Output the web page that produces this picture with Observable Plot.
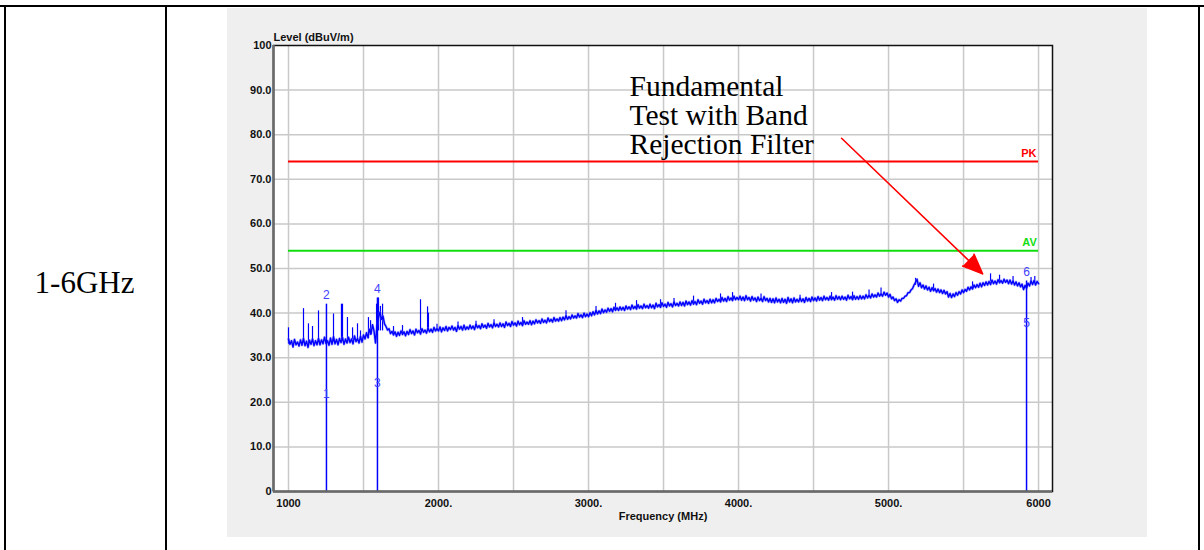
<!DOCTYPE html>
<html><head><meta charset="utf-8">
<script src="https://cdn.jsdelivr.net/npm/d3@7"></script>
<script src="https://cdn.jsdelivr.net/npm/@observablehq/plot@0.6"></script>
<style>
body{margin:0;width:1204px;height:550px;background:#fff;position:relative;overflow:hidden;font-family:"Liberation Serif",serif}
.ln{position:absolute;background:#000}
#panel{position:absolute;left:227px;top:8px;width:920px;height:529px;background:#efefef}
#band{position:absolute;left:4px;top:267px;width:161px;text-align:center;font-size:31px;line-height:32px;color:#000}
</style></head><body>
<div class="ln" style="left:0;top:5px;width:1204px;height:2px"></div>
<div class="ln" style="left:4px;top:5px;width:2px;height:545px"></div>
<div class="ln" style="left:165px;top:5px;width:2px;height:545px"></div>
<div class="ln" style="left:1198px;top:5px;width:2px;height:545px"></div>
<div id="band">1-6GHz</div>
<div id="panel"></div>
<script>
// ---- data ----
const freqStart = 1000, freqStep = 10; // MHz
const level = [
34.2,33.0,33.8,32.4,34.1,32.9,33.5,32.6,34.0,32.8,34.3,32.7,33.7,32.3,33.9,33.0,34.2,32.7,33.8,32.9,
34.3,32.9,34.0,33.1,34.6,33.2,33.8,32.8,34.4,33.0,34.7,33.1,34.1,32.9,34.3,33.4,34.5,33.0,34.2,33.3,
34.6,33.4,34.2,33.1,34.9,33.6,34.3,33.3,34.8,33.5,35.1,34.2,35.6,34.5,36.4,35.3,37.4,36.0,33.3,37.2,
39.0,40.2,38.6,39.3,37.6,37.0,36.2,36.5,35.4,35.9,35.1,35.8,34.8,35.7,35.0,36.0,35.2,35.8,34.9,35.9,
35.2,36.3,35.4,36.0,35.1,36.4,35.6,36.1,35.3,36.5,35.7,36.2,35.5,36.6,35.8,36.4,35.7,36.8,36.0,36.5,
36.0,36.9,35.8,36.7,36.1,37.0,36.0,36.8,36.3,37.1,36.2,36.8,35.9,37.2,36.4,37.0,36.2,37.3,36.3,36.9,
36.4,37.3,36.5,37.1,36.3,37.5,36.7,37.2,36.5,37.6,36.8,37.3,36.6,37.7,36.9,37.4,36.7,37.8,37.0,37.5,
36.9,37.8,37.0,37.6,36.8,38.0,37.2,37.7,37.0,38.1,37.3,37.8,37.1,38.2,37.4,37.9,37.2,38.3,37.5,38.0,
37.5,38.3,37.4,38.2,37.6,38.5,37.8,38.3,37.7,38.7,37.9,38.4,37.8,38.9,38.1,38.6,38.0,39.0,38.2,38.7,
38.2,39.0,38.3,39.1,38.5,39.4,38.6,39.2,38.7,39.6,38.9,39.4,38.9,39.9,39.1,39.6,39.0,40.0,39.2,39.8,
39.2,40.1,39.4,40.3,39.6,40.6,39.8,40.5,39.9,40.9,40.1,40.7,40.2,41.1,40.4,41.0,40.3,41.3,40.6,41.2,
40.6,41.4,40.7,41.3,40.6,41.6,40.9,41.4,40.8,41.8,41.0,41.5,40.9,41.9,41.1,41.6,41.0,42.0,41.2,41.7,
41.1,42.0,41.2,41.8,41.0,42.2,41.4,41.9,41.3,42.3,41.5,42.0,41.3,42.4,41.6,42.1,41.4,42.5,41.7,42.2,
41.6,42.5,41.7,42.4,41.6,42.7,41.9,42.5,41.8,42.8,42.0,42.6,41.9,43.0,42.2,42.7,42.0,43.1,42.3,42.8,
42.2,43.1,42.3,43.0,42.3,43.3,42.6,43.1,42.5,43.5,42.7,43.3,42.6,43.7,42.9,43.4,42.8,43.8,43.0,43.5,
43.0,43.8,42.9,43.6,42.8,43.9,43.0,43.5,42.7,43.7,42.9,43.4,42.6,43.6,42.8,43.3,42.6,43.7,42.8,43.3,
42.5,43.3,42.4,43.2,42.3,43.4,42.5,43.1,42.3,43.3,42.4,43.1,42.2,43.5,42.5,43.2,42.3,43.4,42.5,43.1,
42.5,43.4,42.6,43.2,42.4,43.5,42.7,43.3,42.6,43.6,42.8,43.4,42.7,43.7,42.9,43.5,42.8,43.8,43.0,43.5,
42.9,43.8,43.0,43.6,42.9,43.9,43.1,43.7,43.0,43.8,43.1,43.6,42.9,44.0,43.2,43.7,43.0,43.9,43.1,43.7,
43.1,43.9,43.2,43.8,43.2,44.1,43.4,44.0,43.4,44.3,43.6,44.1,43.6,44.5,43.8,44.3,43.8,44.7,44.0,44.5,
43.6,44.2,43.2,43.6,42.8,43.2,42.4,43.0,42.7,43.3,43.3,43.8,43.9,44.6,44.6,45.2,45.5,46.3,46.9,47.6,
46.0,46.8,45.7,46.3,45.4,46.1,45.2,45.8,44.9,45.7,45.0,45.5,44.7,45.4,44.6,45.2,44.4,45.1,44.3,44.8,
43.6,44.4,43.5,44.3,43.7,44.6,44.0,44.8,44.3,45.2,44.6,45.3,44.9,45.8,45.2,45.9,45.4,46.3,45.7,46.4,
45.8,46.7,45.9,46.8,46.2,47.0,46.3,47.1,46.4,47.4,46.6,47.2,46.5,47.5,46.8,47.3,46.7,47.6,46.9,47.4,
46.6,47.4,46.5,47.2,46.3,47.0,46.1,46.8,45.9,46.5,45.3,46.2,45.6,46.7,46.1,47.2,46.4,47.3,46.3,47.1,
46.6];
// narrow spikes: frequency, foot level, top level
const spikeFreq = [1000,1100,1133,1160,1200,1300,1353,1360,1393,1427,1460,1480,1533,1547,1587,1600,1613,1627,1700,1760,1880,1927,1933,1990,2130,2250,2370,2560,2850,3050,3180,3320,3480,3570,3700,3880,3960,4150,4410,4620,4760,4870,4950,5180,5300,5560,5680,5740,5830,5950,5975];
const spikeLow  = [33.0,33.3,33.0,33.4,33.5,33.5,34.0,34.0,34.0,34.0,34.0,34.0,34.2,35.0,35.0,36.0,36.0,36.0,35.3,35.4,36.0,36.2,36.2,36.0,36.5,36.8,37.0,37.5,38.7,39.8,40.5,41.0,41.5,41.8,42.2,42.8,43.0,43.0,42.8,43.2,43.3,43.6,44.0,46.2,45.0,45.5,47.0,47.0,46.8,46.6,46.8];
const spikeHigh = [36.7,41.0,37.6,37.0,40.5,39.8,42.0,42.0,39.0,36.7,37.6,36.0,39.0,38.3,42.0,43.4,41.5,42.0,37.0,37.2,43.0,41.4,40.0,37.5,38.0,38.2,38.5,39.0,40.5,41.5,42.2,42.8,43.0,43.3,43.8,44.3,44.6,44.3,44.0,44.6,44.7,45.2,45.6,47.8,46.5,47.0,48.8,48.5,48.2,48.0,48.2];
// markers
const markerFreq  = [1253, 1593, 5920];
const markerAvg   = [21.9, 24.4, 37.8];
const markerPeak  = [42.0, 43.4, 47.2];
const markerAvgLabel  = ["1","3","5"];
const markerPeakLabel = ["2","4","6"];
// limits
const limitNames  = ["PK","AV"];
const limitValues = [74, 54];
const limitColors = ["#ff0000","#11dd11"];
const limitLabelFreq = [5935, 5940];
const freqRange = [1000, 6000];
// axes
const xDomain = [900, 6093];
const yDomain = [0, 100];
const xTicks = [1000,2000,3000,4000,5000,6000];
const xGrid  = [1000,1500,2000,2500,3000,3500,4000,4500,5000,5500,6000];
const yTicks = [0,10,20,30,40,50,60,70,80,90,100];
const yGrid  = [10,20,30,40,50,60,70,80,90];
// annotation
const noteText = "Fundamental\nTest with Band\nRejection Filter";
const noteAt = {x: 3273, y: 93.3};
const arrowFrom = {x: 4687, y: 79.2};
const arrowTo   = {x: 5627, y: 48.8};

// ---- build tables ----
const trace = level.map((v, i) => ({f: freqStart + i * freqStep, v}));
const spikes = spikeFreq.map((f, i) => ({f, lo: spikeLow[i], hi: spikeHigh[i]}));
const markers = markerFreq.map((f, i) => ({f, avg: markerAvg[i], pk: markerPeak[i], la: markerAvgLabel[i], lp: markerPeakLabel[i]}));
const limits = limitNames.map((n, i) => ({n, v: limitValues[i], c: limitColors[i], lf: limitLabelFreq[i]}));

const blue = "#0000ff";
const mkBlue = "#4040ff";

const chart = Plot.plot({
  width: 920, height: 529,
  marginLeft: 46, marginRight: 95, marginTop: 37, marginBottom: 46,
  style: {fontFamily: "'Liberation Sans', Arial, sans-serif", fontSize: "11px", background: "transparent", overflow: "visible"},
  x: {domain: xDomain},
  y: {domain: yDomain},
  marks: [
    Plot.frame({fill: "#ffffff", stroke: null}),
    Plot.ruleX(xGrid, {stroke: "#c9c9c9", strokeWidth: 1.5}),
    Plot.ruleY(yGrid, {stroke: "#c9c9c9", strokeWidth: 1.5}),
    Plot.ruleY(limits, {y: "v", x1: freqRange[0], x2: freqRange[1], stroke: "c", strokeWidth: 2}),
    Plot.text(limits, {x: "lf", y: "v", text: "n", fill: "c", fontWeight: "bold", fontSize: 11, dy: -8, lineAnchor: "middle"}),
    Plot.ruleX(spikes, {x: "f", y1: "lo", y2: "hi", stroke: blue, strokeWidth: 1.2}),
    Plot.line(trace, {x: "f", y: "v", stroke: "#6a6aff", strokeWidth: 2.6, strokeOpacity: 0.5}),
    Plot.line(trace, {x: "f", y: "v", stroke: blue, strokeWidth: 1.4}),
    Plot.ruleX(markers, {x: "f", y1: 0, y2: "pk", stroke: blue, strokeWidth: 1.5}),
    Plot.text(markers, {x: "f", y: "avg", text: "la", fill: mkBlue, fontSize: 12, lineAnchor: "middle"}),
    Plot.text(markers, {x: "f", y: "pk", text: "lp", fill: mkBlue, fontSize: 12, dy: -9, lineAnchor: "middle"}),
    Plot.frame({stroke: "#111", strokeWidth: 1.5}),
    Plot.ruleX([xDomain[0]], {stroke: "#6a6a6a", strokeWidth: 2.5}),
    Plot.ruleY([yDomain[0]], {stroke: "#6a6a6a", strokeWidth: 2.5}),
    Plot.axisX(xTicks, {tickSize: 0, tickPadding: 8, fontWeight: "bold", fontSize: 11, fill: "#111",
      tickFormat: d => (d === xTicks[0] || d === xTicks[xTicks.length - 1]) ? String(d) : d + ".", label: null}),
    Plot.axisY(yTicks, {tickSize: 0, tickPadding: 2, fontWeight: "bold", fontSize: 11, fill: "#111",
      tickFormat: d => (d === 0 || d === 100) ? String(d) : d.toFixed(1), label: null}),
    Plot.text(["Level (dBuV/m)"], {frameAnchor: "top-left", textAnchor: "start", lineAnchor: "middle", dy: -8, dx: 0, fontWeight: "bold", fontSize: 11, fill: "#111"}),
    Plot.text(["Frequency (MHz)"], {frameAnchor: "bottom", lineAnchor: "middle", dy: 25, fontWeight: "bold", fontSize: 11, fill: "#111"}),
    Plot.text([noteText], {x: noteAt.x, y: noteAt.y, textAnchor: "start", lineAnchor: "top", lineHeight: 0.985,
      fontFamily: "'Liberation Serif', 'Times New Roman', serif", fontSize: 29.5, fill: "#000"}),
    Plot.arrow([0], {x1: arrowFrom.x, y1: arrowFrom.y, x2: arrowTo.x, y2: arrowTo.y, stroke: "#ff0000", fill: "#ff0000", strokeWidth: 1.6, headLength: 20, headAngle: 45})
  ]
});
document.getElementById("panel").appendChild(chart);
</script>
</body></html>
